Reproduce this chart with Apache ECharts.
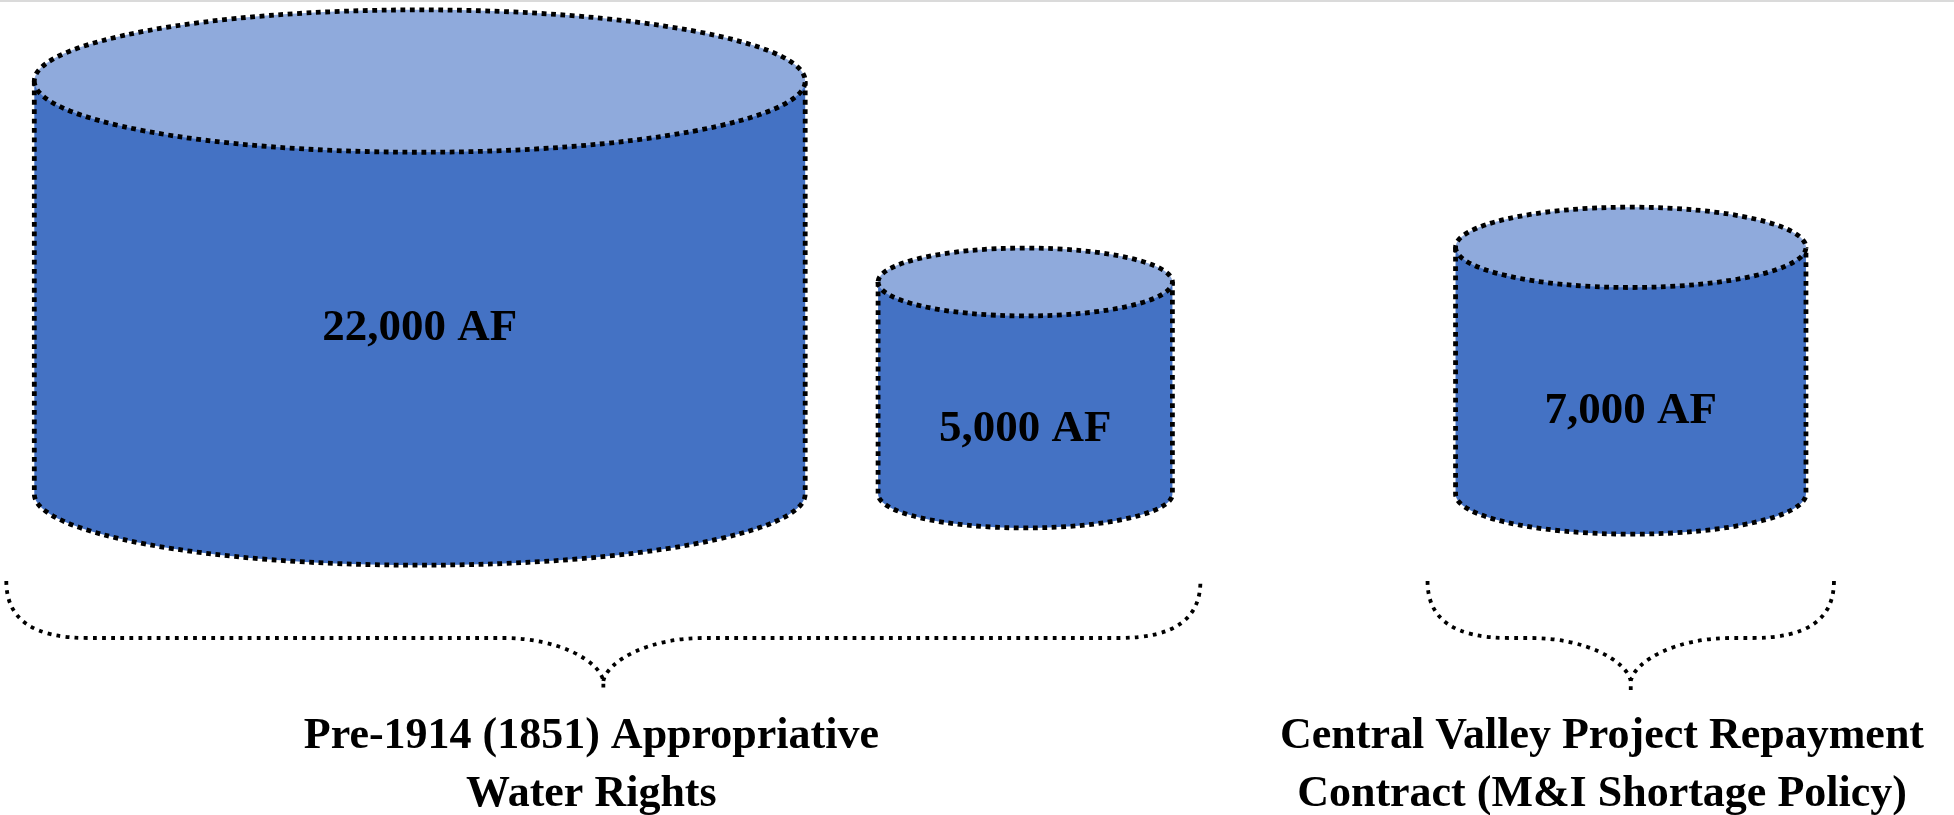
<!DOCTYPE html>
<html>
<head>
<meta charset="utf-8">
<title>Water supply sources</title>
<script src="https://cdn.jsdelivr.net/npm/echarts@6/dist/echarts.min.js"></script>
<style>
  html, body { margin: 0; padding: 0; background: #ffffff; }
  #chart { width: 1954px; height: 815px; }
  #topRule { position: absolute; left: 0; top: 0; width: 1954px; height: 2px; background: #dadada; z-index: 5; }
</style>
</head>
<body>
<div id="topRule"></div>
<div id="chart"></div>
<script>
// ---- data -------------------------------------------------------------
// Annual supply of each source, acre-feet
const volumesAF = [22000, 5000, 7000];
// Which right / contract each source belongs to (index into groupLabels)
const volumeGroup = [0, 0, 1];
// Right / contract names shown under the braces
const groupLabels = [
  ['Pre-1914 (1851) Appropriative', 'Water Rights'],
  ['Central Valley Project Repayment', 'Contract (M&I Shortage Policy)']
];
const volumeUnit = 'AF';

// ---- look & layout ------------------------------------------------------
const SIDE_COLOR = '#4472C4';
const LID_COLOR = '#8FAADC';
const OUTLINE = '#000000';
const SERIF = '"Liberation Serif", "DejaVu Serif", serif';
const VALUE_FONT = 'bold 45px ' + SERIF;
const GROUP_FONT = 'bold 44px ' + SERIF;
const GROUP_LINE_H = 58;

// cylinder height grows with a damped power of the volume
const HEIGHT_EXP = 0.45;
// cylinder half-width as a share of the category band
const RADIUS_OFFSET = 5500;
const RADIUS_SPAN = 43200;
// ellipse depth of the lid / base
const DEPTH_K = 0.48;

const K = 0.5523; // bezier circle constant

function fmtVolume(v) {
  return v.toLocaleString('en-US') + ' ' + volumeUnit;
}
function halfWidth(v, band) {
  return band * (v + RADIUS_OFFSET) / RADIUS_SPAN;
}
function depth(v) {
  return DEPTH_K * Math.sqrt(v);
}

// lower half of an ellipse, from the left extreme to the right extreme
function lowerHalf(cx, cy, rx, ry) {
  return 'C' + (cx - rx) + ' ' + (cy + K * ry) + ' ' + (cx - K * rx) + ' ' + (cy + ry) + ' ' + cx + ' ' + (cy + ry) +
         'C' + (cx + K * rx) + ' ' + (cy + ry) + ' ' + (cx + rx) + ' ' + (cy + K * ry) + ' ' + (cx + rx) + ' ' + cy;
}
// upper half of an ellipse, from the right extreme back to the left extreme
function upperHalf(cx, cy, rx, ry) {
  return 'C' + (cx + rx) + ' ' + (cy - K * ry) + ' ' + (cx + K * rx) + ' ' + (cy - ry) + ' ' + cx + ' ' + (cy - ry) +
         'C' + (cx - K * rx) + ' ' + (cy - ry) + ' ' + (cx - rx) + ' ' + (cy - K * ry) + ' ' + (cx - rx) + ' ' + cy;
}

const dotted = { stroke: OUTLINE, lineWidth: 4.8, lineDash: [4.8, 4.6], lineCap: 'butt' };

function renderCylinder(params, api) {
  const idx = api.value(0);
  const v = api.value(1);
  const base = api.coord([idx, 0]);
  const top = api.coord([idx, Math.pow(v, HEIGHT_EXP)]);
  const band = api.size([1, 0])[0];
  const cx = base[0];
  const yb = base[1];
  const yt = top[1];
  const rx = halfWidth(v, band);
  const ry = depth(v);

  const sideFill = 'M' + (cx - rx) + ' ' + yt + 'L' + (cx - rx) + ' ' + yb + lowerHalf(cx, yb, rx, ry) +
                   'L' + (cx + rx) + ' ' + yt + 'Z';
  const sideLine = 'M' + (cx - rx) + ' ' + yt + 'L' + (cx - rx) + ' ' + yb + lowerHalf(cx, yb, rx, ry) +
                   'L' + (cx + rx) + ' ' + yt;
  const lid = 'M' + (cx - rx) + ' ' + yt + lowerHalf(cx, yt, rx, ry) + upperHalf(cx, yt, rx, ry) + 'Z';

  return {
    type: 'group',
    children: [
      { type: 'path', shape: { pathData: sideFill }, style: { fill: SIDE_COLOR, stroke: null } },
      { type: 'path', shape: { pathData: sideLine }, style: Object.assign({ fill: null }, dotted) },
      { type: 'path', shape: { pathData: lid }, style: Object.assign({ fill: LID_COLOR }, dotted) },
      {
        type: 'text',
        style: {
          text: fmtVolume(v),
          x: cx,
          // a little below the middle of the side wall
          y: (yt + yb) / 2 + 41,
          fill: '#000000',
          font: VALUE_FONT,
          align: 'center', verticalAlign: 'middle',
          textAlign: 'center', textVerticalAlign: 'middle'
        }
      }
    ]
  };
}

// braces under each group of cylinders
const BRACE_MARGIN = 28;
const LABEL_SHIFT = -12;
const LABEL_EDGE = 30;
const measureCtx = document.createElement('canvas').getContext('2d');

function renderBrace(params, api) {
  const g = api.value(0);
  const first = api.value(1);
  const last = api.value(2);
  const band = api.size([1, 0])[0];
  const p0 = api.coord([first, 0]);
  const p1 = api.coord([last, 0]);
  const xl = p0[0] - halfWidth(volumesAF[first], band) - BRACE_MARGIN;
  const xr = p1[0] + halfWidth(volumesAF[last], band) + BRACE_MARGIN;
  const base = p0[1];
  const yTop = base + 87;
  const yMid = base + 144;
  const yJoin = base + 187;
  const yTip = base + 197;
  const xt = (xl + xr) / 2;
  const outer = 82, inner = 100;

  const d =
    'M' + xl + ' ' + yTop +
    'C' + xl + ' ' + (yTop + 38) + ' ' + (xl + 26) + ' ' + yMid + ' ' + (xl + outer) + ' ' + yMid +
    'L' + (xt - inner) + ' ' + yMid +
    'C' + (xt - inner * 0.45) + ' ' + yMid + ' ' + (xt - 4) + ' ' + (yJoin - 20) + ' ' + xt + ' ' + yJoin +
    'L' + xt + ' ' + yTip +
    'M' + xt + ' ' + yJoin +
    'C' + (xt + 4) + ' ' + (yJoin - 20) + ' ' + (xt + inner * 0.45) + ' ' + yMid + ' ' + (xt + inner) + ' ' + yMid +
    'L' + (xr - outer) + ' ' + yMid +
    'C' + (xr - 26) + ' ' + yMid + ' ' + xr + ' ' + (yTop + 38) + ' ' + xr + ' ' + yTop;

  // caption centred under the brace tip, kept inside the canvas
  measureCtx.font = GROUP_FONT;
  const lines = groupLabels[g];
  let w = 0;
  lines.forEach(function (s) { w = Math.max(w, measureCtx.measureText(s).width); });
  const chartW = api.getWidth();
  const cxText = Math.min(xt + LABEL_SHIFT, chartW - LABEL_EDGE - w / 2);

  return {
    type: 'group',
    children: [
      { type: 'path', shape: { pathData: d },
        style: { fill: null, stroke: OUTLINE, lineWidth: 3.8, lineDash: [3.8, 5.3], lineCap: 'butt' } },
      {
        type: 'text',
        style: {
          text: lines.join('\n'),
          x: cxText,
          y: base + 243 - GROUP_LINE_H / 2,
          fill: '#000000',
          font: GROUP_FONT,
          lineHeight: GROUP_LINE_H,
          align: 'center', verticalAlign: 'top',
          textAlign: 'center', textVerticalAlign: 'top'
        }
      }
    ]
  };
}

// one brace per group: [group, first source, last source]
const braceData = groupLabels.map(function (_, g) {
  const members = volumeGroup.map(function (gg, i) { return gg === g ? i : -1; }).filter(function (i) { return i >= 0; });
  return [g, members[0], members[members.length - 1]];
});

const chart = echarts.init(document.getElementById('chart'), null, { renderer: 'canvas' });
chart.setOption({
  backgroundColor: '#ffffff',
  animation: false,
  grid: { left: 117, right: 20.5, top: 35, bottom: 321 },
  xAxis: {
    type: 'category',
    data: volumesAF.map(fmtVolume),
    show: false
  },
  yAxis: {
    type: 'value',
    min: 0,
    max: 100,
    show: false
  },
  series: [
    {
      type: 'custom',
      name: 'Supply',
      clip: false,
      silent: true,
      renderItem: renderCylinder,
      data: volumesAF.map(function (v, i) { return [i, v]; }),
      z: 2
    },
    {
      type: 'custom',
      name: 'Source',
      clip: false,
      silent: true,
      renderItem: renderBrace,
      data: braceData,
      z: 1
    }
  ]
});
</script>
</body>
</html>
